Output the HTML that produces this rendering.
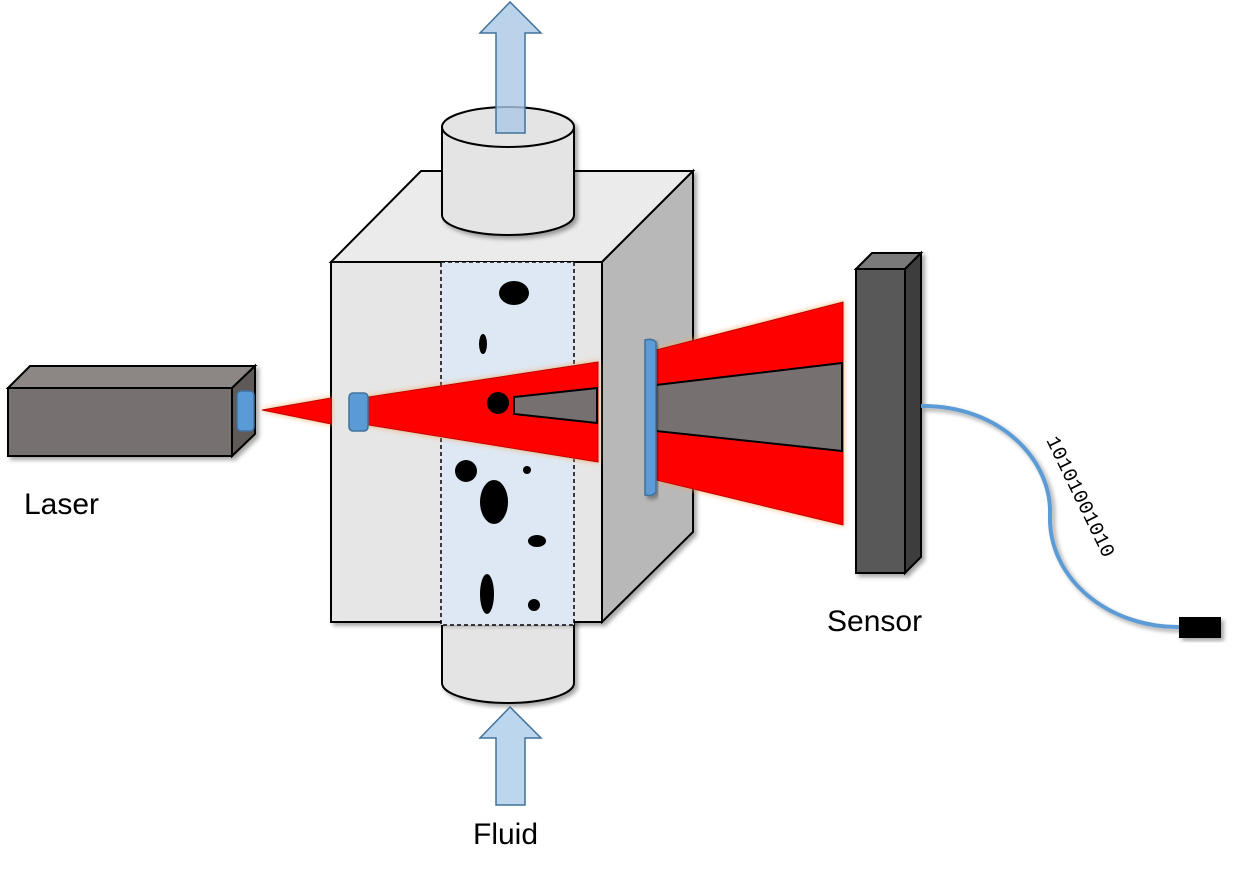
<!DOCTYPE html>
<html><head><meta charset="utf-8"><style>html,body{margin:0;padding:0;background:#fff}svg{display:block}</style></head>
<body>
<svg width="1235" height="878" viewBox="0 0 1235 878" xmlns="http://www.w3.org/2000/svg" font-family="Liberation Sans, sans-serif">
<defs>
<filter id="sh" x="-20%" y="-20%" width="140%" height="140%"><feDropShadow dx="3" dy="3" stdDeviation="2" flood-color="#000" flood-opacity="0.35"/></filter>
<filter id="gl" x="-20%" y="-20%" width="140%" height="140%"><feDropShadow dx="0" dy="0" stdDeviation="3" flood-color="#f4a460" flood-opacity="0.9"/></filter>
</defs>
<g filter="url(#sh)">
<path d="M442,610 L442,683 A66,20 0 0 0 574,683 L574,610 Z" fill="#e4e4e4" stroke="#000" stroke-width="2"/>
</g>
<g filter="url(#sh)">
<polygon points="331,262 421,171 693,171 602,262" fill="#ebebeb" stroke="#000" stroke-width="2"/>
<polygon points="602,262 693,171 693,532 602,622" fill="#b8b8b8" stroke="#000" stroke-width="2"/>
<rect x="331" y="262" width="271" height="360" fill="#e6e6e6" stroke="#000" stroke-width="2"/>
</g>
<rect x="441" y="262" width="133" height="363" fill="#dee8f4" stroke="#000" stroke-width="1.5" stroke-dasharray="4,3"/>
<g filter="url(#sh)">
<path d="M442,127 L442,215 A66,20 0 0 0 574,215 L574,127 Z" fill="#e4e4e4" stroke="#000" stroke-width="2"/>
<ellipse cx="508" cy="127" rx="66" ry="20" fill="#e4e4e4" stroke="#000" stroke-width="2"/>
</g>
<polygon points="496,133 496,33 480,33 510,2 541,33 525,33 525,133" fill="#a9c8e6" fill-opacity="0.8" stroke="#41719c" stroke-width="1.5"/>
<polygon points="496,805 496,738 480,738 510,707 541,738 525,738 525,805" fill="#bcd6ee" stroke="#41719c" stroke-width="1.5"/>
<g fill="#000">
<ellipse cx="514" cy="293" rx="15" ry="12"/>
<ellipse cx="483" cy="344" rx="4" ry="10"/>
<circle cx="466" cy="471" r="11"/>
<circle cx="527" cy="470" r="4"/>
<ellipse cx="494" cy="502" rx="14" ry="22"/>
<ellipse cx="537" cy="541" rx="9" ry="6"/>
<ellipse cx="487" cy="594" rx="7" ry="20"/>
<circle cx="534" cy="605" r="6"/>
</g>
<g filter="url(#sh)">
<polygon points="8,388 30,366 255,366 232,388" fill="#8c8785" stroke="#000" stroke-width="2"/>
<polygon points="232,388 255,366 255,434 232,456" fill="#5e5a58" stroke="#000" stroke-width="2"/>
<rect x="8" y="388" width="224" height="68" fill="#767170" stroke="#000" stroke-width="2"/>
</g>
<rect x="237" y="391" width="17" height="40" rx="4" fill="#5b9bd5" stroke="#41719c" stroke-width="1.5"/>
<g filter="url(#gl)">
<polygon points="262,410 331,398 331,424" fill="#ff0000" stroke="#c00000"/>
<polygon points="362,398 598,362 598,462 362,424" fill="#ff0000" stroke="#c00000"/>
<polygon points="656,350 843,302 843,525 656,480" fill="#ff0000" stroke="#c00000"/>
</g>
<rect x="349" y="393" width="19" height="38" rx="4" fill="#5b9bd5" stroke="#41719c" stroke-width="1.5"/>
<circle cx="498" cy="403" r="11" fill="#000"/>
<polygon points="514,397 597,388 597,423 514,414" fill="#767170" stroke="#000" stroke-width="2"/>
<polygon points="656,385 842,363 842,451 656,431" fill="#767170" stroke="#000" stroke-width="2"/>
<path d="M645,340 Q652,338 656,342 L656,492 Q652,497 645,495 Z" fill="#5b9bd5" stroke="#41719c" stroke-width="1.5" filter="url(#sh)"/>
<g filter="url(#sh)">
<polygon points="856,269 872,253 921,253 905,269" fill="#7a7a7a" stroke="#000" stroke-width="2"/>
<polygon points="905,269 921,253 921,557 905,573" fill="#3d3d3d" stroke="#000" stroke-width="2"/>
<rect x="856" y="269" width="49" height="304" fill="#595959" stroke="#000" stroke-width="2"/>
</g>
<path d="M921,406 C1000,405 1052,460 1050,515 C1048,580 1110,628 1180,627" fill="none" stroke="#5b9bd5" stroke-width="4" filter="url(#sh)"/>
<rect x="1179" y="617" width="42" height="21" fill="#000" filter="url(#sh)"/>
<text x="0" y="0" font-family="Liberation Mono, monospace" font-size="20" transform="translate(1046,440) rotate(64)">10101001010</text>
<text x="24" y="514" font-size="30">Laser</text>
<text x="827" y="631" font-size="30">Sensor</text>
<text x="473" y="844" font-size="30">Fluid</text>
</svg>
</body></html>
